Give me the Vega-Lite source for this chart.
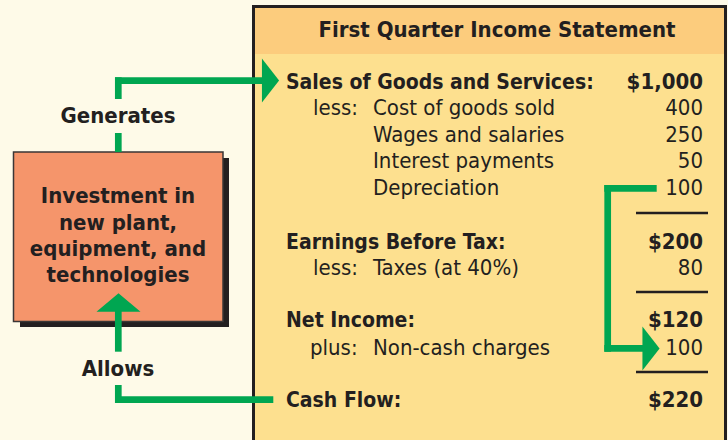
{
  "$schema": "https://vega.github.io/schema/vega-lite/v6.json",
  "width": 728,
  "height": 440,
  "padding": 0,
  "autosize": {"type": "none"},
  "background": "#FEFAE8",
  "config": {"view": {"stroke": null}},
  "datasets": {
    "shapes": [
      {"part": "panel", "x": 253.5, "xe": 725.5, "y": 6.5, "ye": 470},
      {"part": "header", "x": 255, "xe": 724, "y": 8, "ye": 54},
      {"part": "shadow", "x": 20, "xe": 229, "y": 158, "ye": 327},
      {"part": "box", "x": 13.5, "xe": 223, "y": 152, "ye": 321.5}
    ],
    "separators": [
      {"x": 636, "xe": 708, "y": 213, "ye": 213},
      {"x": 636, "xe": 708, "y": 292, "ye": 292},
      {"x": 636, "xe": 708, "y": 372, "ye": 372}
    ],
    "arrows": [
      {"x": 118.3, "xe": 118.3, "y": 152, "ye": 133},
      {"x": 118.3, "xe": 118.3, "y": 99, "ye": 77.3},
      {"x": 115, "xe": 263, "y": 80.7, "ye": 80.7},
      {"x": 118.3, "xe": 118.3, "y": 311, "ye": 351.7},
      {"x": 118.3, "xe": 118.3, "y": 385, "ye": 403},
      {"x": 115, "xe": 273.3, "y": 399.7, "ye": 399.7},
      {"x": 656.7, "xe": 604.3, "y": 188.3, "ye": 188.3},
      {"x": 607.7, "xe": 607.7, "y": 185, "ye": 351.7},
      {"x": 604.3, "xe": 643, "y": 348.3, "ye": 348.3}
    ],
    "heads": [
      {"dir": "right", "x": 270.5, "y": 80.5},
      {"dir": "right", "x": 651, "y": 348.4},
      {"dir": "up", "x": 118.5, "y": 302.5}
    ],
    "texts": [
      {"role": "title", "t": "First Quarter Income Statement", "x": 497, "y": 37},
      {"role": "boldL", "t": "Sales of Goods and Services:", "x": 286, "y": 89},
      {"role": "boldL", "t": "Earnings Before Tax:", "x": 286, "y": 249},
      {"role": "boldL", "t": "Net Income:", "x": 286, "y": 327},
      {"role": "boldL", "t": "Cash Flow:", "x": 286, "y": 407},
      {"role": "regL", "t": "less:", "x": 313, "y": 115},
      {"role": "regL", "t": "Cost of goods sold", "x": 373, "y": 115},
      {"role": "regL", "t": "Wages and salaries", "x": 373, "y": 141.5},
      {"role": "regL", "t": "Interest payments", "x": 373, "y": 168},
      {"role": "regL", "t": "Depreciation", "x": 373, "y": 195},
      {"role": "regL", "t": "less:", "x": 313, "y": 275},
      {"role": "regL", "t": "Taxes (at 40%)", "x": 373, "y": 275},
      {"role": "regL", "t": "plus:", "x": 310, "y": 355},
      {"role": "regL", "t": "Non-cash charges", "x": 373, "y": 355},
      {"role": "boldR", "t": "$1,000", "x": 703, "y": 89},
      {"role": "boldR", "t": "$200", "x": 703, "y": 249},
      {"role": "boldR", "t": "$120", "x": 703, "y": 327},
      {"role": "boldR", "t": "$220", "x": 703, "y": 407},
      {"role": "regR", "t": "400", "x": 703, "y": 115},
      {"role": "regR", "t": "250", "x": 703, "y": 141.5},
      {"role": "regR", "t": "50", "x": 703, "y": 168},
      {"role": "regR", "t": "100", "x": 703, "y": 195},
      {"role": "regR", "t": "80", "x": 703, "y": 275},
      {"role": "regR", "t": "100", "x": 703, "y": 355},
      {"role": "boldC", "t": "Investment in", "x": 118, "y": 203},
      {"role": "boldC", "t": "new plant,", "x": 118, "y": 229.5},
      {"role": "boldC", "t": "equipment, and", "x": 118, "y": 256},
      {"role": "boldC", "t": "technologies", "x": 118, "y": 282},
      {"role": "boldC", "t": "Generates", "x": 118, "y": 123},
      {"role": "boldC", "t": "Allows", "x": 118, "y": 376}
    ]
  },
  "encoding": {
    "x": {"field": "x", "type": "quantitative", "scale": {"domain": [0, 728], "nice": false, "zero": false}, "axis": null},
    "y": {"field": "y", "type": "quantitative", "scale": {"domain": [0, 440], "nice": false, "zero": false, "reverse": true}, "axis": null}
  },
  "layer": [
    {
      "data": {"name": "shapes"},
      "transform": [{"filter": "datum.part == 'panel'"}],
      "mark": {"type": "rect", "fill": "#FDE08F", "stroke": "#231F20", "strokeWidth": 3},
      "encoding": {"x2": {"field": "xe"}, "y2": {"field": "ye"}}
    },
    {
      "data": {"name": "shapes"},
      "transform": [{"filter": "datum.part == 'header'"}],
      "mark": {"type": "rect", "fill": "#FCCC7D"},
      "encoding": {"x2": {"field": "xe"}, "y2": {"field": "ye"}}
    },
    {
      "data": {"name": "shapes"},
      "transform": [{"filter": "datum.part == 'shadow'"}],
      "mark": {"type": "rect", "fill": "#231F20"},
      "encoding": {"x2": {"field": "xe"}, "y2": {"field": "ye"}}
    },
    {
      "data": {"name": "shapes"},
      "transform": [{"filter": "datum.part == 'box'"}],
      "mark": {"type": "rect", "fill": "#F5956B", "stroke": "#3A3636", "strokeWidth": 1.5},
      "encoding": {"x2": {"field": "xe"}, "y2": {"field": "ye"}}
    },
    {
      "data": {"name": "separators"},
      "mark": {"type": "rule", "color": "#231F20", "strokeWidth": 2.7},
      "encoding": {"x2": {"field": "xe"}, "y2": {"field": "ye"}}
    },
    {
      "data": {"name": "arrows"},
      "mark": {"type": "rule", "color": "#00A651", "strokeWidth": 6.7, "strokeCap": "butt"},
      "encoding": {"x2": {"field": "xe"}, "y2": {"field": "ye"}}
    },
    {
      "data": {"name": "heads"},
      "mark": {"type": "point", "filled": true, "color": "#00A651", "opacity": 1, "size": 1936, "strokeWidth": 0},
      "encoding": {
        "shape": {"field": "dir", "type": "nominal", "legend": null,
          "scale": {"domain": ["right", "up"], "range": ["M-0.39,-1L0.39,0L-0.39,1Z", "M-1,0.42L0,-0.42L1,0.42Z"]}}
      }
    },
    {
      "data": {"name": "texts"},
      "transform": [{"filter": "datum.role == 'title'"}],
      "mark": {"type": "text", "align": "center", "baseline": "alphabetic", "font": "'Liberation Sans Narrow', 'DejaVu Sans Condensed', sans-serif", "fontSize": 22, "fontWeight": "bold", "color": "#231F20"},
      "encoding": {"text": {"field": "t"}}
    },
    {
      "data": {"name": "texts"},
      "transform": [{"filter": "datum.role == 'boldL'"}],
      "mark": {"type": "text", "align": "left", "baseline": "alphabetic", "font": "'Liberation Sans Narrow', 'DejaVu Sans Condensed', sans-serif", "fontSize": 21, "fontWeight": "bold", "color": "#231F20"},
      "encoding": {"text": {"field": "t"}}
    },
    {
      "data": {"name": "texts"},
      "transform": [{"filter": "datum.role == 'regL'"}],
      "mark": {"type": "text", "align": "left", "baseline": "alphabetic", "font": "'Liberation Sans Narrow', 'DejaVu Sans Condensed', sans-serif", "fontSize": 22, "fontWeight": "normal", "color": "#231F20"},
      "encoding": {"text": {"field": "t"}}
    },
    {
      "data": {"name": "texts"},
      "transform": [{"filter": "datum.role == 'boldR'"}],
      "mark": {"type": "text", "align": "right", "baseline": "alphabetic", "font": "'Liberation Sans Narrow', 'DejaVu Sans Condensed', sans-serif", "fontSize": 22, "fontWeight": "bold", "color": "#231F20"},
      "encoding": {"text": {"field": "t"}}
    },
    {
      "data": {"name": "texts"},
      "transform": [{"filter": "datum.role == 'regR'"}],
      "mark": {"type": "text", "align": "right", "baseline": "alphabetic", "font": "'Liberation Sans Narrow', 'DejaVu Sans Condensed', sans-serif", "fontSize": 22, "fontWeight": "normal", "color": "#231F20"},
      "encoding": {"text": {"field": "t"}}
    },
    {
      "data": {"name": "texts"},
      "transform": [{"filter": "datum.role == 'boldC'"}],
      "mark": {"type": "text", "align": "center", "baseline": "alphabetic", "font": "'Liberation Sans Narrow', 'DejaVu Sans Condensed', sans-serif", "fontSize": 22, "fontWeight": "bold", "color": "#231F20"},
      "encoding": {"text": {"field": "t"}}
    }
  ]
}
